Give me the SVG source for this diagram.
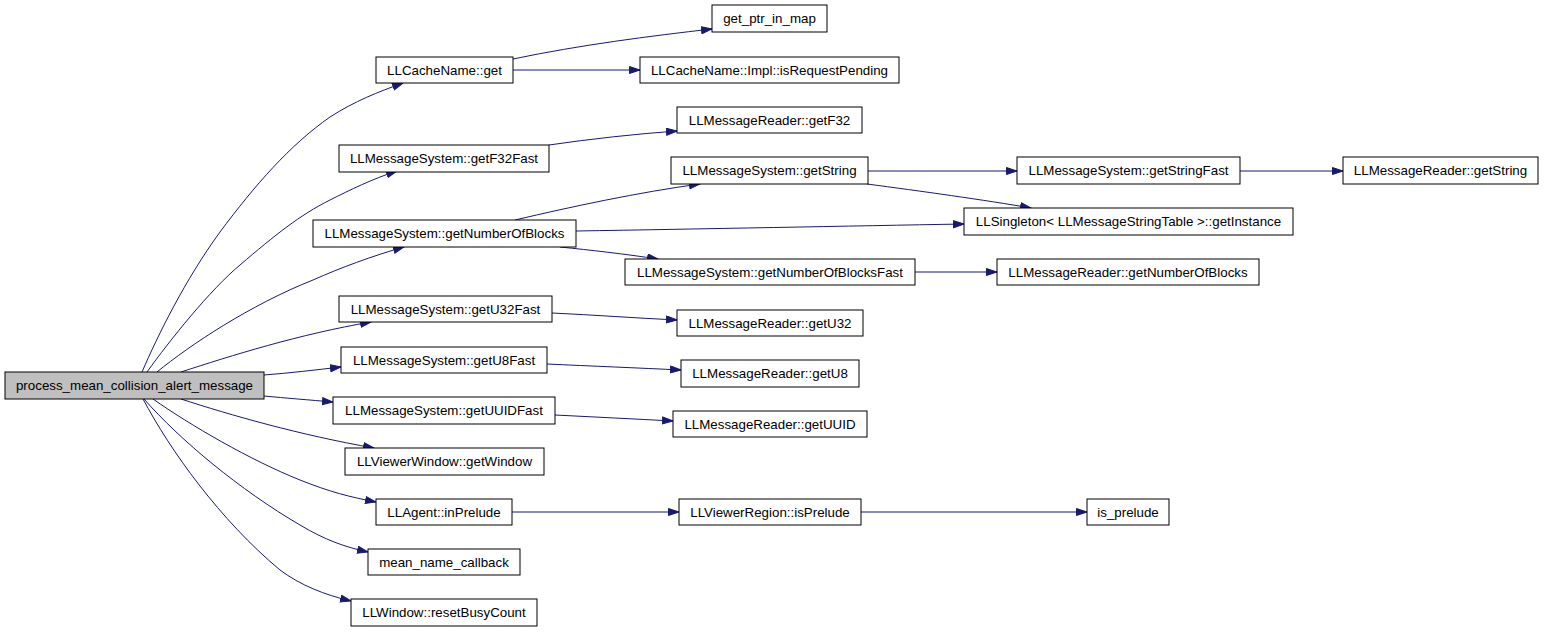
<svg xmlns="http://www.w3.org/2000/svg" width="1544" height="632" viewBox="0 0 1544 632">
<style>
.n rect{fill:#ffffff;stroke:#000000;stroke-width:1}
.n.root rect{fill:#bfbfbf}
.n text{font-family:"Liberation Sans",Arial,sans-serif;font-size:13.33px;text-anchor:middle;fill:#000000}
.e path{fill:none;stroke:#191970;stroke-width:1;marker-end:url(#arr)}
</style>
<defs>
<marker id="arr" markerUnits="userSpaceOnUse" markerWidth="12" markerHeight="9" refX="11" refY="4" orient="auto" viewBox="0 0 12 9">
<path d="M0.5,0.5 L11,4 L0.5,7.5 z" fill="#191970" stroke="#191970" stroke-width="1"/>
</marker>
</defs>
<rect x="0" y="0" width="1544" height="632" fill="#ffffff"/>
<g id="edges" class="e">
<path d="M142,372 C158,335 185,280 220,232 C255,185 290,145 330,117 C355,101 378,92 403,83"/>
<path d="M147,372 C170,340 210,290 240,265 C275,235 300,215 330,200 C350,190 372,179 397,171"/>
<path d="M157,372 C190,345 250,305 313,280 C340,268 372,256 404,247"/>
<path d="M181,372 C230,356 300,334 371,322"/>
<path d="M264,375 C290,373 315,370 341,367"/>
<path d="M264,396 C285,398 310,400 333,402"/>
<path d="M181,399 C230,415 300,435 374,448"/>
<path d="M153,399 C190,425 250,460 300,480 C330,492 350,497 376,502"/>
<path d="M144,399 C180,440 240,490 300,525 C325,540 345,547 368,552"/>
<path d="M143,399 C170,450 220,520 280,570 C300,585 325,595 351,601"/>
<path d="M513,59 C580,45 650,36 712,29"/>
<path d="M513,70 L640,70"/>
<path d="M549,145 C590,139 635,134 677,131"/>
<path d="M515,220 C570,207 640,192 700,184"/>
<path d="M576,231 C700,229 850,226 964,224"/>
<path d="M560,247 C590,250 625,254 658,259"/>
<path d="M868,171 L1017,171"/>
<path d="M867,184 C920,191 985,200 1031,208"/>
<path d="M1240,171 L1343,171"/>
<path d="M915,272 L997,272"/>
<path d="M552,313 C595,315 635,318 677,320"/>
<path d="M547,364 C590,366 640,368 681,370"/>
<path d="M555,415 C595,417 635,419 673,421"/>
<path d="M512,512 L679,512"/>
<path d="M861,512 L1087,512"/>
</g>
<g id="n0" class="n root"><rect x="5" y="372" width="259" height="27"/><text x="134.5" y="390">process_mean_collision_alert_message</text></g>
<g id="n1" class="n"><rect x="712" y="5" width="115" height="27"/><text x="769.5" y="23">get_ptr_in_map</text></g>
<g id="n2" class="n"><rect x="376" y="57" width="137" height="26"/><text x="444.5" y="75">LLCacheName::get</text></g>
<g id="n3" class="n"><rect x="640" y="57" width="259" height="26"/><text x="769.5" y="75">LLCacheName::Impl::isRequestPending</text></g>
<g id="n4" class="n"><rect x="677" y="107" width="185" height="26"/><text x="769.5" y="125">LLMessageReader::getF32</text></g>
<g id="n5" class="n"><rect x="339" y="145" width="210" height="27"/><text x="444" y="163">LLMessageSystem::getF32Fast</text></g>
<g id="n6" class="n"><rect x="671" y="157" width="197" height="27"/><text x="769.5" y="175">LLMessageSystem::getString</text></g>
<g id="n7" class="n"><rect x="1017" y="157" width="223" height="27"/><text x="1128.5" y="175">LLMessageSystem::getStringFast</text></g>
<g id="n8" class="n"><rect x="1343" y="157" width="195" height="27"/><text x="1440.5" y="175">LLMessageReader::getString</text></g>
<g id="n9" class="n"><rect x="964" y="208" width="329" height="27"/><text x="1128.5" y="226">LLSingleton&lt; LLMessageStringTable &gt;::getInstance</text></g>
<g id="n10" class="n"><rect x="313" y="220" width="263" height="27"/><text x="444.5" y="238">LLMessageSystem::getNumberOfBlocks</text></g>
<g id="n11" class="n"><rect x="625" y="259" width="290" height="26"/><text x="770" y="277">LLMessageSystem::getNumberOfBlocksFast</text></g>
<g id="n12" class="n"><rect x="997" y="259" width="262" height="26"/><text x="1128" y="277">LLMessageReader::getNumberOfBlocks</text></g>
<g id="n13" class="n"><rect x="339" y="296" width="213" height="26"/><text x="445.5" y="314">LLMessageSystem::getU32Fast</text></g>
<g id="n14" class="n"><rect x="677" y="310" width="186" height="26"/><text x="770" y="328">LLMessageReader::getU32</text></g>
<g id="n15" class="n"><rect x="341" y="347" width="206" height="26"/><text x="444" y="365">LLMessageSystem::getU8Fast</text></g>
<g id="n16" class="n"><rect x="681" y="360" width="178" height="27"/><text x="770" y="378">LLMessageReader::getU8</text></g>
<g id="n17" class="n"><rect x="333" y="397" width="222" height="27"/><text x="444" y="415">LLMessageSystem::getUUIDFast</text></g>
<g id="n18" class="n"><rect x="673" y="411" width="194" height="26"/><text x="770" y="429">LLMessageReader::getUUID</text></g>
<g id="n19" class="n"><rect x="345" y="448" width="199" height="27"/><text x="444.5" y="466">LLViewerWindow::getWindow</text></g>
<g id="n20" class="n"><rect x="376" y="499" width="136" height="26"/><text x="444" y="517">LLAgent::inPrelude</text></g>
<g id="n21" class="n"><rect x="679" y="499" width="182" height="26"/><text x="770" y="517">LLViewerRegion::isPrelude</text></g>
<g id="n22" class="n"><rect x="1087" y="499" width="82" height="26"/><text x="1128" y="517">is_prelude</text></g>
<g id="n23" class="n"><rect x="368" y="549" width="152" height="26"/><text x="444" y="567">mean_name_callback</text></g>
<g id="n24" class="n"><rect x="351" y="599" width="186" height="27"/><text x="444" y="617">LLWindow::resetBusyCount</text></g>
</svg>
